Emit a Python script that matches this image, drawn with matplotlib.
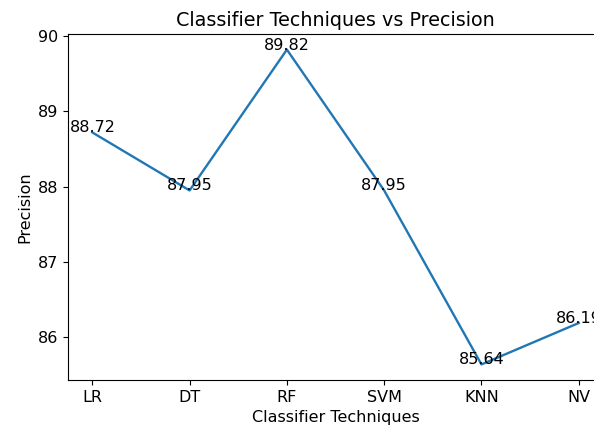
import matplotlib
matplotlib.use("Agg")
import matplotlib.pyplot as plt

techniques = ["LR", "DT", "RF", "SVM", "KNN", "NV"]
precision = [88.72, 87.95, 89.82, 87.95, 85.64, 86.19]

plt.rcParams["font.size"] = 11.5
plt.rcParams["axes.titlesize"] = 13.8
plt.rcParams["axes.labelsize"] = 11.5

fig = plt.figure(figsize=(5.94, 4.34), dpi=100)
ax = fig.add_axes([0.1145, 0.124, 0.9007, 0.798])
ax.plot(techniques, precision, linewidth=1.7)
for i, v in enumerate(precision):
    ax.text(i, v, str(v), ha="center")
ax.set_title("Classifier Techniques vs Precision")
ax.set_xlabel("Classifier Techniques")
ax.set_ylabel("Precision")
fig.savefig("out.png", dpi=100)
